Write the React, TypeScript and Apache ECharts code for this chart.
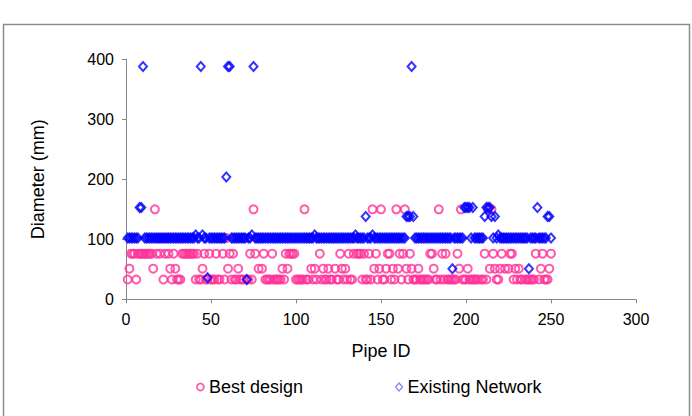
import React, { useEffect, useRef } from "react";
import * as echarts from "echarts";

// Diameter (mm) of pipes 1..250
const bestDesign: number[] = [
  33, 51, 76, 76, 76, 33, 76, 76, 76, 76,
  76, 76, 76, 76, 76, 51, 150, 76, 102, 76,
  102, 33, 76, 102, 76, 51, 33, 76, 51, 33,
  33, 33, 76, 76, 76, 76, 76, 76, 76, 76,
  33, 76, 33, 33, 51, 76, 33, 33, 76, 33,
  33, 33, 76, 33, 33, 102, 76, 33, 102, 51,
  76, 33, 76, 33, 33, 51, 33, 33, 33, 102,
  33, 33, 76, 33, 150, 76, 102, 51, 102, 51,
  76, 33, 33, 33, 33, 76, 33, 33, 33, 33,
  33, 51, 33, 76, 51, 76, 76, 76, 76, 33,
  33, 33, 33, 33, 150, 33, 33, 102, 51, 33,
  51, 33, 102, 76, 33, 51, 33, 33, 51, 33,
  33, 102, 51, 33, 33, 76, 51, 33, 51, 33,
  76, 33, 33, 76, 102, 76, 76, 76, 33, 76,
  33, 33, 76, 33, 150, 51, 76, 33, 51, 150,
  33, 33, 51, 76, 76, 33, 51, 33, 150, 51,
  76, 33, 76, 150, 51, 33, 76, 51, 33, 33,
  33, 51, 33, 33, 33, 33, 33, 33, 76, 76,
  51, 33, 33, 150, 33, 76, 33, 76, 33, 33,
  33, 33, 33, 33, 76, 51, 150, 33, 33, 33,
  51, 33, 33, 33, 33, 33, 33, 102, 33, 33,
  76, 33, 150, 51, 150, 76, 51, 33, 33, 51,
  76, 102, 51, 102, 51, 76, 76, 33, 51, 33,
  51, 33, 33, 102, 33, 33, 33, 33, 33, 33,
  76, 102, 33, 51, 76, 33, 33, 33, 51, 76,
];

const existingNetwork: number[] = [
  102, 102, 102, 102, 102, 102, 102, 153, 153, 388,
  102, 102, 102, 102, 102, 102, 102, 102, 102, 102,
  102, 102, 102, 102, 102, 102, 102, 102, 102, 102,
  102, 102, 102, 102, 102, 102, 102, 102, 102, 102,
  107, 102, 102, 388, 107, 102, 102, 36, 102, 102,
  102, 102, 102, 102, 102, 102, 102, 102, 204, 388,
  388, 102, 102, 102, 102, 102, 102, 102, 102, 102,
  33, 102, 102, 107, 388, 102, 102, 102, 102, 102,
  102, 102, 102, 102, 102, 102, 102, 102, 102, 102,
  102, 102, 102, 102, 102, 102, 102, 102, 102, 102,
  102, 102, 102, 102, 102, 102, 102, 102, 102, 102,
  107, 102, 102, 102, 102, 102, 102, 102, 102, 102,
  102, 102, 102, 102, 102, 102, 102, 102, 102, 102,
  102, 102, 102, 102, 107, 102, 102, 102, 102, 102,
  138, 102, 102, 102, 107, 102, 102, 102, 102, 102,
  102, 102, 102, 102, 102, 102, 102, 102, 102, 102,
  102, 102, 102, 102, 138, 138, 138, 388, 138, 102,
  102, 102, 102, 102, 102, 102, 102, 102, 102, 102,
  102, 102, 102, 102, 102, 102, 102, 102, 102, 102,
  102, 51, 102, 102, 102, 102, 102, 102, 153, 153,
  153, 153, 102, 153, 102, 102, 102, 102, 102, 102,
  138, 153, 153, 153, 138, 102, 138, 102, 107, 102,
  102, 102, 102, 102, 102, 102, 102, 102, 102, 102,
  102, 102, 102, 102, 102, 102, 51, 102, 102, 102,
  102, 153, 102, 102, 102, 102, 102, 138, 138, 102,
];

const seriesNames = ["Best design", "Existing Network"];
const xMin = 0, xMax = 300, xInterval = 50;
const yMin = 0, yMax = 400, yInterval = 100;

const PINK = "#FF3399";
const BLUE = "#0000FF";
const FONT = "'Liberation Sans', Arial, sans-serif";

export default function App() {
  const ref = useRef<HTMLDivElement>(null);
  useEffect(() => {
    document.body.style.margin = "0";
    if (!ref.current) return;
    const chart = echarts.init(ref.current, null, { renderer: "svg" });
    const bestData = bestDesign.map((v, i) => [i + 1, v]);
    const existData = existingNetwork.map((v, i) => [i + 1, v]);
    const axisLine = { show: true, lineStyle: { color: "#868686", width: 1 } };
    chart.setOption({
      animation: false,
      backgroundColor: "#ffffff",
      textStyle: { fontFamily: FONT },
      graphic: [
        {
          type: "rect",
          shape: { x: 3.5, y: 24.5, width: 686, height: 420 },
          style: { fill: "none", stroke: "#8c8c8c", lineWidth: 1.5 },
          silent: true,
        },
      ],
      grid: { left: 126, right: 56, top: 59.3, bottom: 116.7, containLabel: false },
      xAxis: {
        type: "value",
        min: xMin,
        max: xMax,
        interval: xInterval,
        name: "Pipe ID",
        nameLocation: "middle",
        nameGap: 43,
        nameTextStyle: { fontSize: 18, color: "#000", fontFamily: FONT },
        axisLine,
        axisTick: { show: true, length: 4, lineStyle: { color: "#868686" } },
        axisLabel: { fontSize: 16, color: "#000", margin: 12, fontFamily: FONT },
        splitLine: { show: false },
      },
      yAxis: {
        type: "value",
        min: yMin,
        max: yMax,
        interval: yInterval,
        name: "Diameter (mm)",
        nameLocation: "middle",
        nameRotate: 90,
        nameGap: 79,
        nameTextStyle: { fontSize: 18, color: "#000", fontFamily: FONT },
        axisLine,
        axisTick: { show: true, length: 4, lineStyle: { color: "#868686" } },
        axisLabel: { fontSize: 16, color: "#000", margin: 12, fontFamily: FONT },
        splitLine: { show: false },
      },
      legend: {
        left: 191,
        top: 373,
        itemWidth: 7,
        itemHeight: 8,
        itemGap: 92,
        textStyle: { fontSize: 18, color: "#000", fontFamily: FONT },
        data: [
          {
            name: seriesNames[0],
            icon: "circle",
            itemStyle: { color: "rgba(0,0,0,0)", borderColor: PINK, borderWidth: 1.8 },
          },
          {
            name: seriesNames[1],
            icon: "diamond",
            itemStyle: { color: "rgba(0,0,0,0)", borderColor: "#6666ee", borderWidth: 1.2 },
          },
        ],
      },
      series: [
        {
          name: seriesNames[0],
          type: "scatter",
          symbol: "circle",
          symbolSize: 8,
          data: bestData,
          itemStyle: { color: "rgba(0,0,0,0)", borderColor: PINK, borderWidth: 2 },
        },
        {
          name: seriesNames[1],
          type: "scatter",
          symbol: "diamond",
          symbolSize: [8, 9],
          data: existData,
          itemStyle: { color: "rgba(0,0,0,0)", borderColor: BLUE, borderWidth: 2 },
        },
      ],
    });
    return () => chart.dispose();
  }, []);
  return <div ref={ref} style={{ width: 692, height: 416 }} />;
}
